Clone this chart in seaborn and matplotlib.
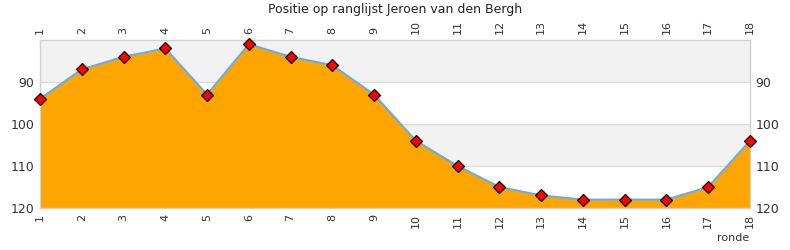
import matplotlib
matplotlib.use("Agg")
import matplotlib.pyplot as plt
import seaborn as sns
import pandas as pd

rounds = list(range(1, 19))
positions = [94, 87, 84, 82, 93, 81, 84, 86, 93, 104, 110, 115, 117, 118, 118, 118, 115, 104]
yticks = [90, 100, 110, 120]
title = "Positie op ranglijst Jeroen van den Bergh"
xlabel = "ronde"

df = pd.DataFrame({"ronde": rounds, "positie": positions})

sns.set_style("white")
plt.rcParams['font.family'] = ['DejaVu Sans']

fig = plt.figure(figsize=(7.9, 2.5), dpi=100)
ax = fig.add_axes([40/790, 1-208/250, 710/790, 168/250])

ymin, ymax = 80, 120
# alternating bands
ax.axhspan(80, 90, color="#f2f2f2", zorder=0, lw=0)
ax.axhspan(100, 110, color="#f2f2f2", zorder=0, lw=0)
for y in [90, 100, 110]:
    ax.axhline(y, color="#dcdcdc", lw=1, zorder=0.5)

ax.fill_between(df["ronde"], df["positie"], ymax, color="#FFA500", lw=0, zorder=1)
sns.lineplot(data=df, x="ronde", y="positie", ax=ax, color="#6aaae8", lw=1.5, zorder=2)
ax.plot(df["ronde"], df["positie"], ls="none", marker="D", ms=6.5, mfc="#ff0000",
        mec="#000000", mew=0.9, zorder=3, clip_on=False)

ax.set_xlim(1, 18)
ax.set_ylim(ymax, ymin)
ax.set_xticks(rounds)
ax.set_xticklabels([str(r) for r in rounds], rotation=90)
ax.set_yticks(yticks)
ax.tick_params(axis="both", length=0, labelsize=8, colors="#333333", pad=4)
ax.tick_params(axis="x", labeltop=True, labelbottom=True, top=False, bottom=False)
ax.tick_params(axis="y", labelleft=True, labelright=True, left=False, right=False)
for lab in ax.get_yticklabels():
    lab.set_fontsize(9)

for s in ax.spines.values():
    s.set_color("#d0d0d0")
    s.set_linewidth(1)

ax.set_xlabel("")
ax.set_ylabel("")
fig.text(749/790, 1-238/250, xlabel, ha="right", va="center", fontsize=8, color="#333333")
fig.text(0.5, 1-10/250, title, ha="center", va="center", fontsize=9, color="#222222")

fig.savefig("out.png", dpi=100)
